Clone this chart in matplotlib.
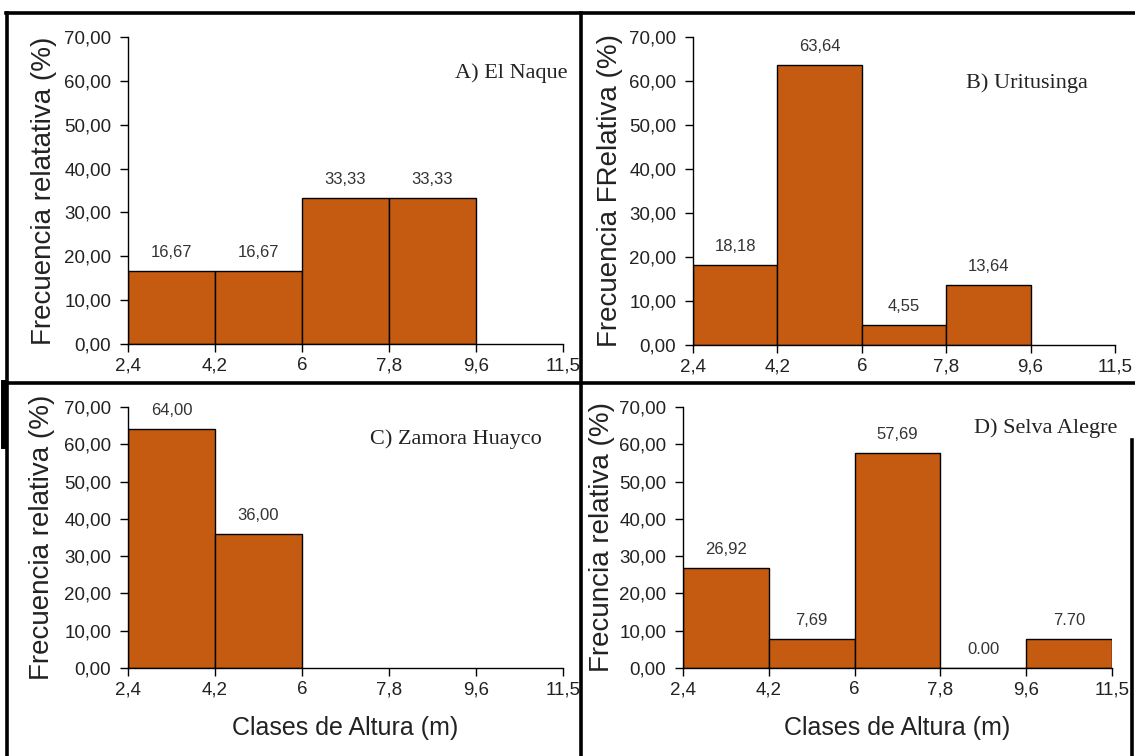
import matplotlib
matplotlib.use("Agg")
import matplotlib.pyplot as plt
from matplotlib import font_manager
from matplotlib.lines import Line2D

# ---- data ----
class_edges = ["2,4", "4,2", "6", "7,8", "9,6", "11,5"]
y_ticks = [0, 10, 20, 30, 40, 50, 60, 70]

vals_a = [16.67, 16.67, 33.33, 33.33]
vals_b = [18.18, 63.64, 4.55, 13.64]
vals_c = [64.00, 36.00]
vals_d = [26.92, 7.69, 57.69, 0.00, 7.70]

labels_a = ["16,67", "16,67", "33,33", "33,33"]
labels_b = ["18,18", "63,64", "4,55", "13,64"]
labels_c = ["64,00", "36,00"]
labels_d = ["26,92", "7,69", "57,69", "0.00", "7.70"]

titles = ["A) El Naque", "B) Uritusinga", "C) Zamora Huayco", "D) Selva Alegre"]
ylabels = ["Frecuencia relatativa (%)", "Frecuencia FRelativa (%)",
           "Frecuencia relativa (%)", "Frecuncia relativa (%)"]
xlabel = "Clases de Altura (m)"

# ---- fonts ----
avail = {f.name for f in font_manager.fontManager.ttflist}
narrow = "Liberation Sans Narrow" if "Liberation Sans Narrow" in avail else "Liberation Sans"
sans = "Liberation Sans" if "Liberation Sans" in avail else "DejaVu Sans"
serif = "Liberation Serif" if "Liberation Serif" in avail else "DejaVu Serif"

W, H = 1135, 756
fig = plt.figure(figsize=(W / 100, H / 100), dpi=100)
fig.patch.set_facecolor("white")

BAR = "#C55A11"

def px_axes(left, right, top, bottom):
    return fig.add_axes([left / W, 1 - bottom / H, (right - left) / W, (bottom - top) / H])

panels = [
    (px_axes(128, 563, 37, 344), vals_a, labels_a, (1.01, 0.883), False),
    (px_axes(693, 1115, 37, 345), vals_b, labels_b, (0.935, 0.849), False),
    (px_axes(128, 563, 407, 668), vals_c, labels_c, (0.95, 0.875), True),
    (px_axes(683, 1112, 407, 668), vals_d, labels_d, (1.013, 0.92), True),
]
ylab_x = [44, 610, 42, 602]

for i, (ax, vals, labs, tpos, show_xlabel) in enumerate(panels):
    pos = list(range(len(vals)))
    ax.bar(pos, vals, width=1.0, align="edge", color=BAR, edgecolor="black", linewidth=1.0, zorder=2)
    for p, v, lab in zip(pos, vals, labs):
        ax.annotate(lab, (p + 0.5, v), xytext=(0, 8), textcoords="offset points",
                    ha="center", va="bottom", fontsize=12, family=narrow, color="#333333")
    ax.set_xlim(0, len(class_edges) - 1)
    ax.set_ylim(0, 70)
    ax.set_xticks(range(len(class_edges)))
    ax.set_xticklabels(class_edges)
    ax.set_yticks(y_ticks)
    ax.set_yticklabels([f"{t:.2f}".replace(".", ",") for t in y_ticks])
    for sp in ("top", "right"):
        ax.spines[sp].set_visible(False)
    for sp in ("left", "bottom"):
        ax.spines[sp].set_linewidth(1.0)
        ax.spines[sp].set_color("black")
    ax.tick_params(axis="both", direction="out", length=6, width=1.0, colors="black",
                   labelcolor="#222222", labelsize=13.5)
    ax.tick_params(axis="x", pad=3.5)
    ax.tick_params(axis="y", pad=6)
    for t in ax.get_xticklabels() + ax.get_yticklabels():
        t.set_family(narrow)
    ax.text(tpos[0], tpos[1], titles[i], transform=ax.transAxes, ha="right", va="center",
            fontsize=16, family=serif, color="#222222")
    bb = ax.get_position()
    fig.text(ylab_x[i] / W, (bb.y0 + bb.y1) / 2, ylabels[i], rotation=90, ha="center", va="center",
             fontsize=20, family=sans, color="#222222")
    if show_xlabel:
        ax.set_xlabel(xlabel, fontsize=18, family=sans, color="#222222", labelpad=13)
    ax.set_facecolor("white")

# panel frame lines
lw = 2.6
def hline(y, x0, x1):
    fig.add_artist(Line2D([x0 / W, x1 / W], [1 - y / H, 1 - y / H], color="black", lw=lw,
                          transform=fig.transFigure))
def vline(x, y0, y1, w=lw):
    fig.add_artist(Line2D([x / W, x / W], [1 - y0 / H, 1 - y1 / H], color="black", lw=w,
                          transform=fig.transFigure))

hline(13, 6, 1134)
hline(383, 6, 1134)
vline(7, 13, 756)
vline(4, 383, 445, w=5)
vline(581, 13, 756)
vline(1132, 440, 756)

fig.savefig("out.png", dpi=100)
